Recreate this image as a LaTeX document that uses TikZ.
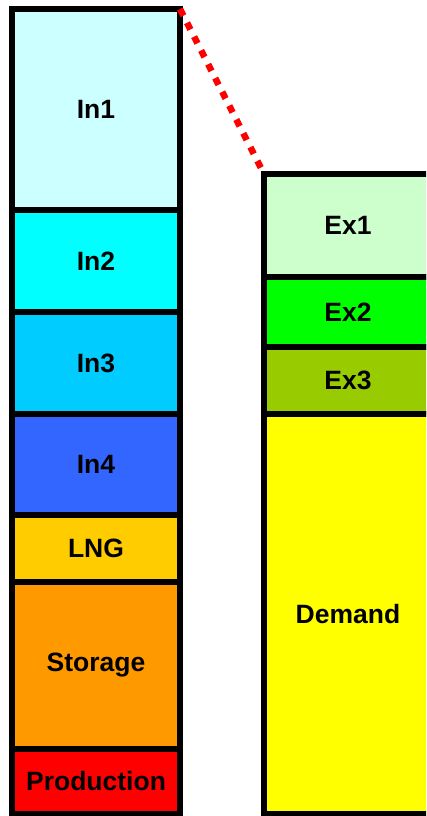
\documentclass[tikz,border=0pt]{standalone}
\usepackage{fontspec}
\setmainfont{Liberation Sans}
\begin{document}
\begin{tikzpicture}[x=1pt,y=-1pt,
  box/.style={draw=black, line width=6pt, rectangle, inner sep=0pt, outer sep=0pt,
    minimum width=168pt, font=\bfseries\fontsize{26.5}{30}\selectfont, text=black},
  link/.style={draw=red, line width=6.5pt, dash pattern=on 7.5pt off 8pt}]
\useasboundingbox (0,0) rectangle (426,816);
\clip (0,0) rectangle (426,816);
% left column
\node[box, fill={rgb,255:red,204;green,255;blue,255}, minimum height=201pt] (in1) at (96,109.5) {In1};
\node[box, fill={rgb,255:red,0;green,255;blue,255}, minimum height=102pt] (in2) at (96,261) {In2};
\node[box, fill={rgb,255:red,0;green,204;blue,255}, minimum height=102pt] (in3) at (96,363) {In3};
\node[box, fill={rgb,255:red,51;green,102;blue,255}, minimum height=101pt] (in4) at (96,464.5) {In4};
\node[box, fill={rgb,255:red,255;green,204;blue,0}, minimum height=67pt] (lng) at (96,548.5) {LNG};
\node[box, fill={rgb,255:red,255;green,153;blue,0}, minimum height=167pt] (sto) at (96,665.5) {Storage};
\node[box, fill={rgb,255:red,255;green,0;blue,0}, minimum height=65pt] (prod) at (96,781.5) {Production};
% right column
\node[box, fill={rgb,255:red,204;green,255;blue,204}, minimum height=103pt] (ex1) at (348,225.5) {Ex1};
\node[box, fill={rgb,255:red,0;green,255;blue,0}, minimum height=70pt] (ex2) at (348,312) {Ex2};
\node[box, fill={rgb,255:red,153;green,204;blue,0}, minimum height=67pt] (ex3) at (348,380.5) {Ex3};
\node[box, fill={rgb,255:red,255;green,255;blue,0}, minimum height=400pt] (dem) at (348,614) {Demand};
% dotted link
\draw[link] (in1.north east) -- (ex1.north west);
\end{tikzpicture}
\end{document}
